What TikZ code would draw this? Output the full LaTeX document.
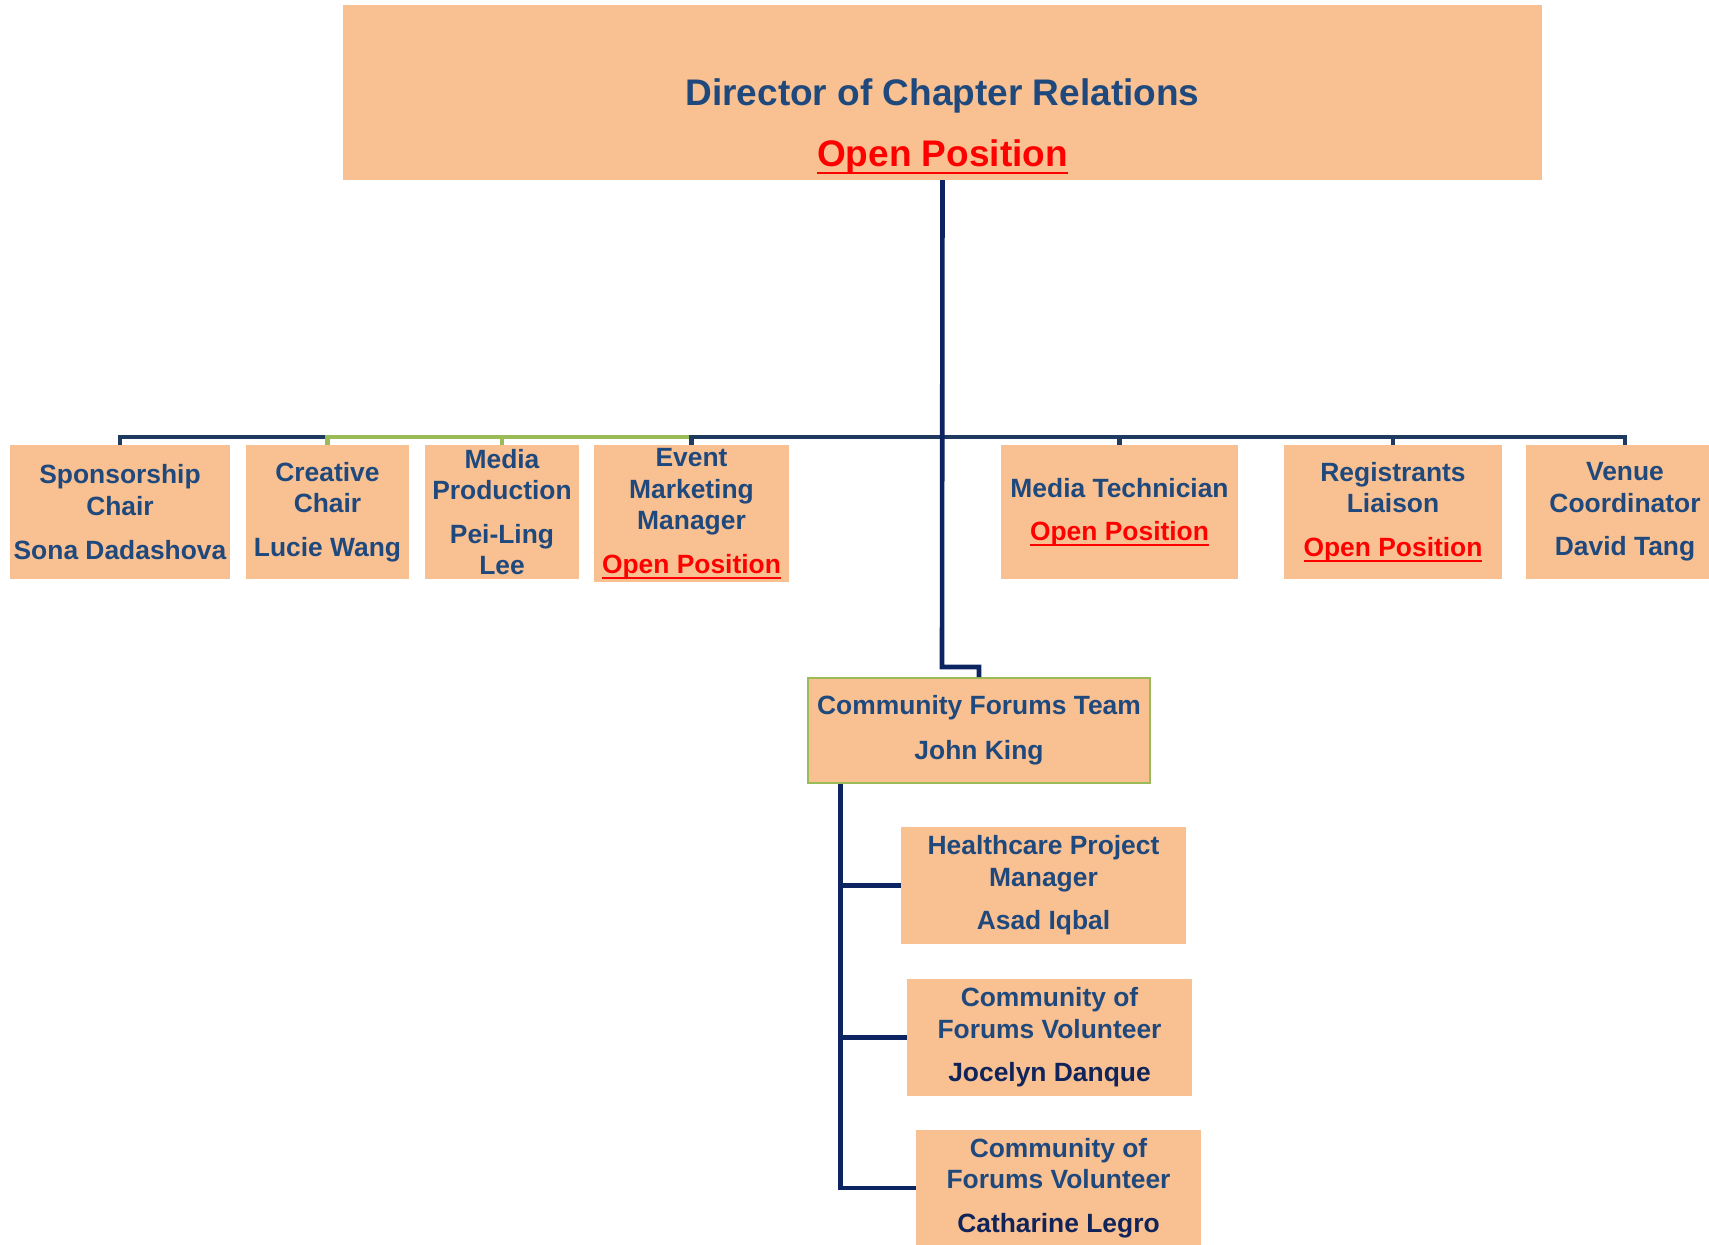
\documentclass[tikz,border=0pt]{standalone}
\usepackage{fontspec}
\setmainfont{Liberation Sans}
\definecolor{boxfill}{HTML}{F9C091}
\definecolor{roleblue}{HTML}{1F497D}
\definecolor{nameblue}{HTML}{10245A}
\definecolor{trunkblue}{HTML}{0C2461}
\definecolor{busblue}{HTML}{1E3A5F}
\definecolor{teamgreen}{HTML}{9BBB59}
\definecolor{openred}{HTML}{FF0000}
\newcommand{\openpos}{\textcolor{openred}{\setbox0\hbox{Open Position}\rlap{\rule[-0.2em]{\wd0}{0.07em}}\box0}}
\tikzset{
  rolebox/.style={fill=boxfill, text=roleblue, align=center, inner sep=1pt,
    minimum height=67pt, font=\fontsize{13.2}{15.8}\selectfont\bfseries},
  teambox/.style={rolebox, draw=teamgreen, line width=0.8pt},
  trunk/.style={draw=trunkblue, line width=2.3pt},
  busline/.style={draw=busblue, line width=2.3pt},
  greenline/.style={draw=teamgreen, line width=2.3pt},
}

\begin{document}
\begin{tikzpicture}[x=0.5pt, y=-0.5pt]
    \useasboundingbox (0,0) rectangle (1709,1244);

    \node[rolebox, anchor=south, minimum width=599.5pt, minimum height=0pt, inner ysep=2.6pt,
      font=\fontsize{18.5}{22.2}\selectfont\bfseries] (dir) at (942.5,180)
      {\rule{0pt}{47.9pt}Director of Chapter Relations\\[8.3pt]\openpos};

    \node[rolebox, minimum width=110pt] (spon) at (120,512) {Sponsorship\\Chair\\[6pt]Sona Dadashova};
    \node[rolebox, minimum width=81.5pt] (creat) at (327.5,512) {Creative\\Chair\\[6pt]Lucie Wang};
    \node[rolebox, minimum width=77pt] (media) at (502,512) {Media\\Production\\[6pt]Pei-Ling\\Lee};
    \node[rolebox, minimum width=97.5pt, minimum height=68.5pt] (event) at (691.5,513.5) {Event\\Marketing\\Manager\\[6pt]\openpos};
    \node[rolebox, minimum width=118.5pt] (tech) at (1119.5,512) {Media Technician\\[6pt]\openpos};
    \node[rolebox, minimum width=109pt] (reg) at (1393,512) {Registrants\\Liaison\\[6pt]\openpos};
    \node[rolebox, minimum width=99pt] (venue) at (1625,512) {Venue\\Coordinator\\[6pt]David Tang};

    \node[teambox, minimum width=171pt, minimum height=52.5pt] (team) at (979,730.5) {Community Forums Team\\[6.5pt]John King};

    \node[rolebox, minimum width=142.5pt, minimum height=58.5pt] (heal) at (1043.5,885.5) {Healthcare Project\\Manager\\[6pt]Asad Iqbal};
    \node[rolebox, minimum width=142.5pt, minimum height=58.5pt] (vol1) at (1049.5,1037.5) {Community of\\Forums Volunteer\\[6pt]\textcolor{nameblue}{Jocelyn Danque}};
    \node[rolebox, minimum width=142.5pt, minimum height=58.5pt] (vol2) at (1058.5,1188) {Community of\\Forums Volunteer\\[6pt]\textcolor{nameblue}{Catharine Legro}};

    % bus under the director
    \coordinate (bus) at (942,437);
    \draw[busline] (spon.north) -- (spon.north |- bus) -- (creat.north |- bus);
    \draw[greenline] (creat.north) -- (creat.north |- bus) -- (event.north |- bus);
    \draw[greenline] (media.north) -- (media.north |- bus);
    \draw[busline] (event.north) -- (event.north |- bus) -- (venue.north |- bus) -- (venue.north);
    \draw[busline] (tech.north) -- (tech.north |- bus);
    \draw[busline] (reg.north) -- (reg.north |- bus);

    % trunk down to the team
    \coordinate (jog) at (942,667);
    \draw[trunk] (dir.south) -- (jog) -| (team.north);

    % team members
    \coordinate (sub) at ([xshift=16.5pt]team.south west);
    \draw[trunk] (sub) |- (vol2.west);
    \draw[trunk] (sub |- heal.west) -- (heal.west);
    \draw[trunk] (sub |- vol1.west) -- (vol1.west);
\end{tikzpicture}
\end{document}
